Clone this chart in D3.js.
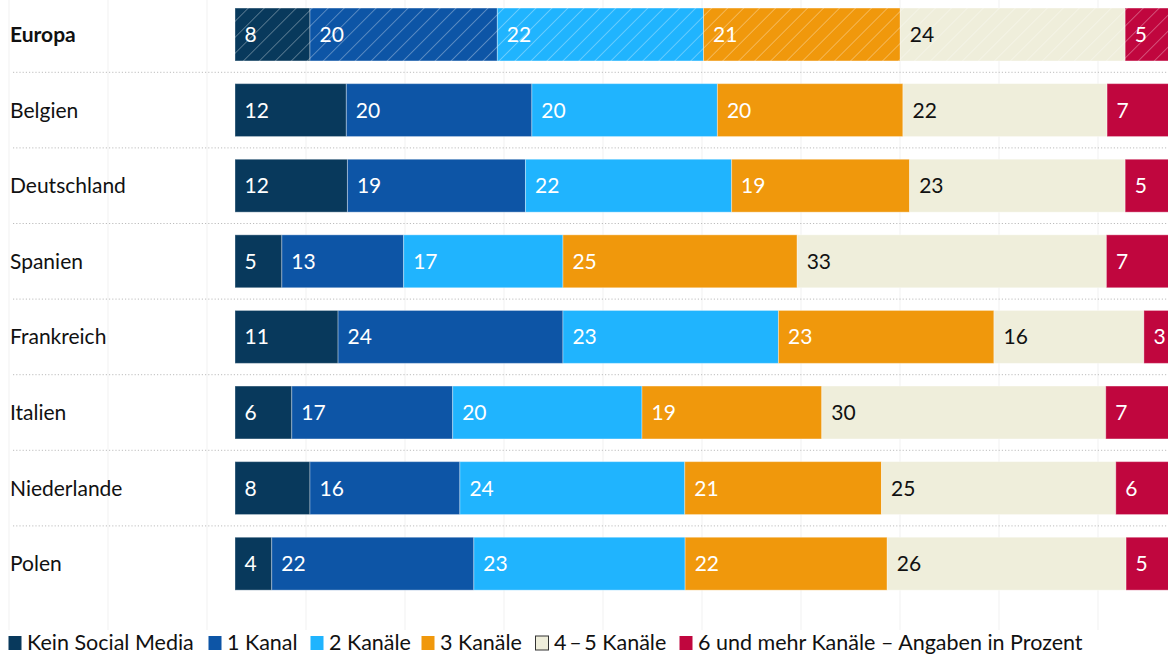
<!DOCTYPE html>
<html lang="de">
<head>
<meta charset="utf-8">
<script src="https://cdn.jsdelivr.net/npm/d3@7"></script>
<style>
  html, body { margin: 0; padding: 0; background: #fff; }
  svg { display: block; font-family: Lato, "Noto Sans", sans-serif; }
</style>
</head>
<body>
<svg id="chart" width="1168" height="654"></svg>
<script>
// Social-Media-Nutzung nach Anzahl der Kanäle, Angaben in Prozent
const countries = ["Europa", "Belgien", "Deutschland", "Spanien", "Frankreich", "Italien", "Niederlande", "Polen"];
const seriesNames = ["Kein Social Media", "1 Kanal", "2 Kanäle", "3 Kanäle", "4\u2009–\u20095 Kanäle", "6 und mehr Kanäle"];
const keinSocialMedia = [8, 12, 12, 5, 11, 6, 8, 4];
const einKanal = [20, 20, 19, 13, 24, 17, 16, 22];
const zweiKanaele = [22, 20, 22, 17, 23, 20, 24, 23];
const dreiKanaele = [21, 20, 19, 25, 23, 19, 21, 22];
const vierFuenfKanaele = [24, 22, 23, 33, 16, 30, 25, 26];
const sechsPlusKanaele = [5, 7, 5, 7, 3, 7, 6, 5];
const legendSuffix = " – Angaben in Prozent";

const seriesValues = [keinSocialMedia, einKanal, zweiKanaele, dreiKanaele, vierFuenfKanaele, sechsPlusKanaele];
const colors = ["#08395c", "#0d55a6", "#20b4fe", "#f0980c", "#efeedb", "#c0063e"];
const textColors = ["#fff", "#fff", "#fff", "#fff", "#111", "#fff"];
const fontSize = 21;

const rows = countries.map((c, i) => {
  const r = { country: c };
  seriesNames.forEach((s, j) => { r[s] = seriesValues[j][i]; });
  return r;
});

const stack = d3.stack().keys(seriesNames).offset(d3.stackOffsetExpand);
const layers = stack(rows);

const svg = d3.select("#chart");
const x = d3.scaleLinear().domain([0, 1]).range([235, 1172]);
const y = d3.scaleBand().domain(countries).range([-3.3, 601.5]).paddingInner(0.3).paddingOuter(0.15);
const gridX = d3.scaleLinear().domain([0, 11]).range([9, 1098]);

// Hatching used for the European average
const defs = svg.append("defs");
const pat = defs.append("pattern")
  .attr("id", "hatch").attr("patternUnits", "userSpaceOnUse")
  .attr("width", 11.3).attr("height", 11.3)
  .attr("patternTransform", "rotate(45)");
pat.append("line").attr("x1", 0).attr("y1", 0).attr("x2", 0).attr("y2", 11.3)
  .attr("stroke", "#fff").attr("stroke-opacity", 0.5).attr("stroke-width", 1.2);

// Faint vertical background grid
svg.append("g").selectAll("line").data(d3.range(0, 12)).join("line")
  .attr("x1", d => gridX(d)).attr("x2", d => gridX(d))
  .attr("y1", 0).attr("y2", 630)
  .attr("stroke", "#f3f3f3").attr("stroke-width", 1.2);

// Dotted row separators
const step = y.step();
svg.append("g").selectAll("line").data(countries.slice(0, -1)).join("line")
  .attr("x1", 13).attr("x2", 1168)
  .attr("y1", d => y(d) + y.bandwidth() + (step - y.bandwidth()) / 2)
  .attr("y2", d => y(d) + y.bandwidth() + (step - y.bandwidth()) / 2)
  .attr("stroke", "#bdbdbd").attr("stroke-width", 1).attr("stroke-dasharray", "1.2,2");

// Bars
const layerG = svg.append("g").selectAll("g").data(layers).join("g");
layerG.selectAll("rect.seg").data((L, j) => L.map(d => ({ d, j, key: L.key }))).join("rect")
  .attr("class", "seg")
  .attr("x", o => x(o.d[0]))
  .attr("width", o => x(o.d[1]) - x(o.d[0]))
  .attr("y", o => y(o.d.data.country))
  .attr("height", y.bandwidth())
  .attr("fill", o => colors[o.j])
  .attr("stroke", "#fff").attr("stroke-opacity", 0.35).attr("stroke-width", 1);

layerG.selectAll("rect.hatch").data(L => L.filter(d => d.data.country === "Europa")).join("rect")
  .attr("class", "hatch")
  .attr("x", d => x(d[0]))
  .attr("width", d => x(d[1]) - x(d[0]))
  .attr("y", d => y(d.data.country))
  .attr("height", y.bandwidth())
  .attr("fill", "url(#hatch)");

// Value labels
layerG.selectAll("text").data((L, j) => L.map(d => ({ d, j, key: L.key }))).join("text")
  .attr("x", o => x(o.d[0]) + 9.5)
  .attr("y", o => y(o.d.data.country) + y.bandwidth() / 2 + 7.5)
  .attr("fill", o => textColors[o.j])
  .attr("font-size", fontSize)
  .text(o => o.d.data[o.key]);

// Category labels
svg.append("g").selectAll("text").data(countries).join("text")
  .attr("x", 10)
  .attr("y", d => y(d) + y.bandwidth() / 2 + 7.5)
  .attr("font-size", fontSize)
  .attr("font-weight", d => d === "Europa" ? 700 : 400)
  .attr("fill", "#111")
  .text(d => d);

// Legend
const legendX = [8, 208, 310, 421, 535, 679];
const lg = svg.append("g").selectAll("g").data(seriesNames).join("g")
  .attr("transform", (d, i) => `translate(${legendX[i]},0)`);
lg.append("rect").attr("x", 0.5).attr("y", 636).attr("width", 13).attr("height", 14)
  .attr("fill", (d, i) => colors[i])
  .attr("stroke", (d, i) => i === 4 ? "#333" : "none").attr("stroke-width", 1);
lg.append("text").attr("x", 19).attr("y", 650).attr("font-size", 21.5).attr("fill", "#111")
  .text((d, i) => i === seriesNames.length - 1 ? d + legendSuffix : d);
</script>
</body>
</html>
